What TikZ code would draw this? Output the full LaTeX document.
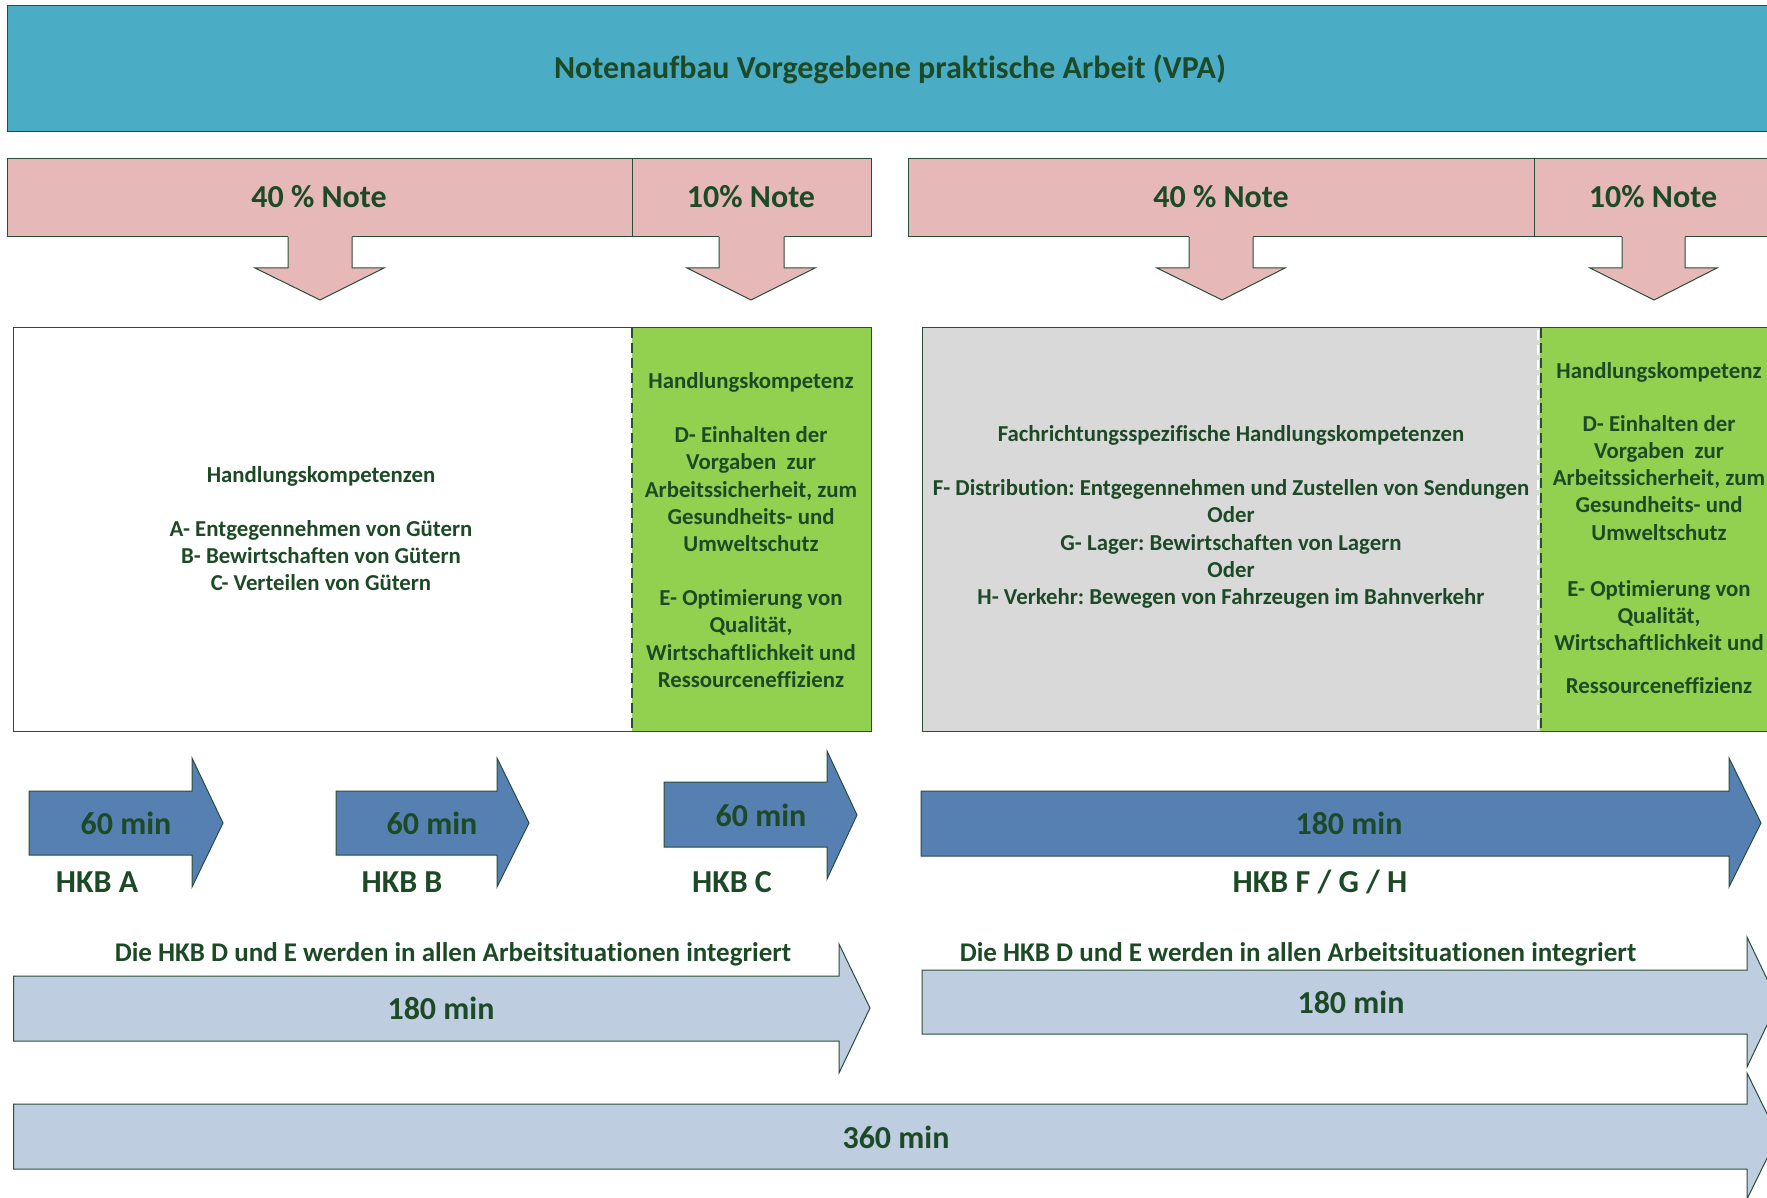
\documentclass[tikz,border=0pt]{standalone}
\usepackage{fontspec}
\setmainfont{Carlito}[RawFeature={-liga;-clig;-dlig}]
\definecolor{tcol}{RGB}{29,74,38}
\definecolor{lcol}{RGB}{40,78,55}
\definecolor{banner}{RGB}{75,172,198}
\definecolor{pinkc}{RGB}{230,185,184}
\definecolor{greenc}{RGB}{146,208,80}
\definecolor{greyc}{RGB}{217,217,217}
\definecolor{bluec}{RGB}{86,128,178}
\definecolor{lightc}{RGB}{190,206,224}
\begin{document}
\frenchspacing
\begin{tikzpicture}[x=1pt,y=-1pt,
  big/.style={text=tcol,inner sep=0pt,font=\fontsize{32}{38}\selectfont\bfseries},
  mid/.style={text=tcol,inner sep=0pt,font=\fontsize{27}{32}\selectfont\bfseries},
  body/.style={text=tcol,inner sep=0pt,align=center,font=\fontsize{22.8}{27.2}\selectfont\bfseries},
  outl/.style={draw=lcol,line width=1pt},
  dsh/.style={draw=lcol,line width=1.5pt,dash pattern=on 10pt off 5pt}]
\useasboundingbox (0,0) rectangle (1767,1198);
\clip (0,0) rectangle (1767,1198);

% title banner
\path[fill=banner,outl] (7,6) rectangle (1790,132);
\node[big] (title) at (890,69) {Notenaufbau Vorgegebene praktische Arbeit (VPA)};

% pink bands
\path[fill=pinkc,outl] (7,159) rectangle (871,237);
\draw[outl] (632,159) -- (632,237);
\path[fill=pinkc,outl] (908,159) rectangle (1790,237);
\draw[outl] (1534,159) -- (1534,237);

% down arrows
\foreach \sl/\sr/\hl/\hr/\tx in {288/352/255/384/320, 719/784/687/815/751, 1189/1253/1157/1285/1222, 1622/1685/1590/1717/1654}{
  \fill[pinkc] (\sl,235) -- (\sl,268) -- (\hl,268) -- (\tx,300) -- (\hr,268) -- (\sr,268) -- (\sr,235) -- cycle;
  \draw[outl] (\sl,237) -- (\sl,268) -- (\hl,268) -- (\tx,300) -- (\hr,268) -- (\sr,268) -- (\sr,237);
}
\node[big] (n40a) at (319,197) {40 \% Note};
\node[big] (n10a) at (751,197) {10\% Note};
\node[big] (n40b) at (1221,197) {40 \% Note};
\node[big] (n10b) at (1653,197) {10\% Note};

% content boxes
\fill[white] (13.5,328) rectangle (632,731);
\draw[outl] (632,328) -- (13.5,328) -- (13.5,731) -- (632,731);
\fill[greenc] (632,328) rectangle (871,731);
\draw[outl] (632,328) -- (871,328) -- (871,731) -- (632,731);
\draw[dsh] (632,328) -- (632,731);

\fill[greyc] (922,328) rectangle (1540,731);
\draw[outl] (1540,328) -- (922,328) -- (922,731) -- (1540,731);
\fill[greenc] (1540,328) rectangle (1790,731);
\draw[outl] (1540,328) -- (1790,328);
\draw[outl] (1540,731) -- (1790,731);
\draw[white,line width=2pt,dash pattern=on 10pt off 5pt] (1538,330) -- (1538,729);
\draw[dsh] (1541,328) -- (1541,731);

\node[body] (hk1) at (321,528.5) {Handlungskompetenzen\\[27pt]A- Entgegennehmen von Gütern\\B- Bewirtschaften von Gütern\\C- Verteilen von Gütern};
\node[body] (hk2) at (751,530) {Handlungskompetenz\\[27pt]D- Einhalten der\\Vorgaben~ zur\\Arbeitssicherheit, zum\\Gesundheits- und\\Umweltschutz\\[27pt]E- Optimierung von\\Qualität,\\Wirtschaftlichkeit und\\Ressourceneffizienz};
\node[body] (hk3) at (1231,517) {Fachrichtungsspezifische Handlungskompetenzen\\[27pt]F- Distribution: Entgegennehmen und Zustellen von Sendungen\\Oder\\G- Lager: Bewirtschaften von Lagern\\Oder\\H- Verkehr: Bewegen von Fahrzeugen im Bahnverkehr};
\node[body] (hk4) at (1659,528) {Handlungskompetenz\\[26pt]D- Einhalten der\\Vorgaben~ zur\\Arbeitssicherheit, zum\\Gesundheits- und\\Umweltschutz\\[29pt]E- Optimierung von\\Qualität,\\Wirtschaftlichkeit und\\[16pt]Ressourceneffizienz};

% blue arrows
\path[fill=bluec,outl] (29,791) -- (192,791) -- (192,758) -- (223,823) -- (192,887) -- (192,855) -- (29,855) -- cycle;
\path[fill=bluec,outl] (336,791) -- (497,791) -- (497,758) -- (529,823) -- (497,887) -- (497,855) -- (336,855) -- cycle;
\path[fill=bluec,outl] (664,782) -- (827,782) -- (827,751) -- (857,815) -- (827,879) -- (827,847) -- (664,847) -- cycle;
\path[fill=bluec,outl] (921,791) -- (1729,791) -- (1729,758) -- (1761,823) -- (1729,887) -- (1729,856) -- (921,856) -- cycle;
\node[big] (m60a) at (126,823) {60 min};
\node[big] (m60b) at (432,823) {60 min};
\node[big] (m60c) at (761,815) {60 min};
\node[big] (m180) at (1349,823) {180 min};
\node[big] (hkba) at (97,882) {HKB A};
\node[big] (hkbb) at (402,882) {HKB B};
\node[big] (hkbc) at (732,882) {HKB C};
\node[big] (hkbf) at (1320,882) {HKB F / G / H};

% light arrows
\path[fill=lightc,outl] (13.5,976) -- (839,976) -- (839,944) -- (870,1008) -- (839,1073) -- (839,1041) -- (13.5,1041) -- cycle;
\path[fill=lightc,outl] (922,970) -- (1747,970) -- (1747,937) -- (1778,1002) -- (1747,1067) -- (1747,1034) -- (922,1034) -- cycle;
\path[fill=lightc,outl] (13.5,1104) -- (1747,1104) -- (1747,1073) -- (1778,1136) -- (1747,1199) -- (1747,1169) -- (13.5,1169) -- cycle;
\node[mid] (dieL) at (453,954) {Die HKB D und E werden in allen Arbeitsituationen integriert};
\node[mid] (dieR) at (1298,954) {Die HKB D und E werden in allen Arbeitsituationen integriert};
\node[big] (l180) at (441,1008) {180 min};
\node[big] (r180) at (1351,1002) {180 min};
\node[big] (m360) at (896,1137) {360 min};
\end{tikzpicture}
\end{document}
